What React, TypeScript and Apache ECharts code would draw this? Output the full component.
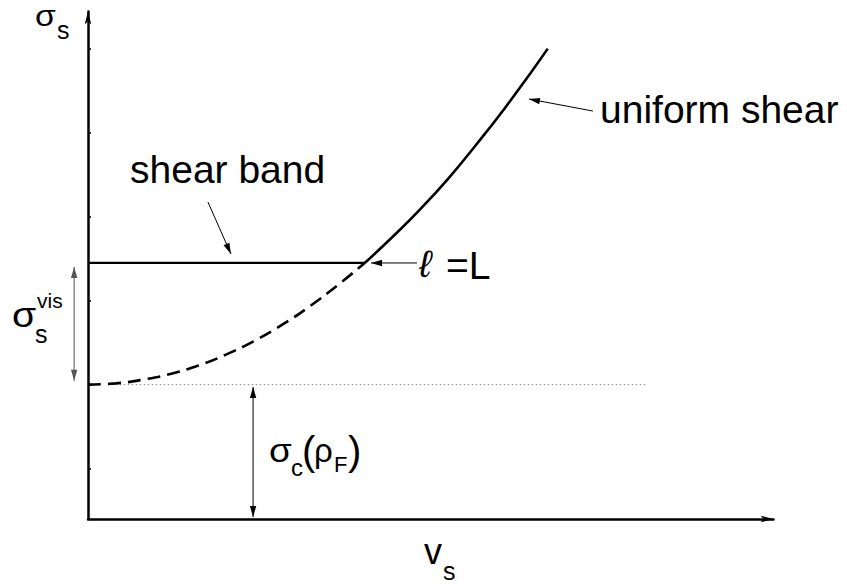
import React, { useEffect, useRef } from "react";
import * as echarts from "echarts";

const W = 847;
const H = 586;

// Schematic units: v_s along x, sigma_s along y
const dashedV = [0, 0.1, 0.2, 0.3, 0.4, 0.5, 0.6, 0.7, 0.8, 0.9, 1.0];
const dashedSigma = [1.6, 1.615, 1.66, 1.73, 1.83, 1.96, 2.12, 2.31, 2.53, 2.78, 3.05];
const uniformV = [1.0, 1.1, 1.2, 1.3, 1.4, 1.5, 1.6, 1.66];
const uniformSigma = [3.05, 3.36, 3.69, 4.05, 4.45, 4.87, 5.32, 5.6];
const bandV = [0, 1.0];
const bandSigma = [3.05, 3.05];
const critV = [0.1, 2.02];
const critSigma = [1.6, 1.6];
const yTickValues = [0.6, 1.6, 2.6, 3.6, 4.6, 5.6];
const X_MAX = 2.475;
const Y_MAX = 6.042;

// annotation arrows, in data coordinates
const arrowFrom = [[0.433, 3.774], [1.823, 4.857], [1.188, 3.048], [-0.05, 3.0], [0.596, 1.571]];
const arrowTo = [[0.516, 3.155], [1.592, 5.0], [1.022, 3.048], [-0.05, 1.645], [0.596, 0.024]];
const arrowBoth = [false, false, false, true, true];
const arrowColor = ["#000", "#000", "#000", "#555", "#000"];

const FONT = "'Liberation Sans', Arial, Helvetica, sans-serif";

const zip = (a: number[], b: number[]) => a.map((v, i) => [v, b[i]]);

function txt(text: string, x: number, y: number, size: number, italic = false, sx = 1) {
  return {
    type: "text",
    x,
    y,
    scaleX: sx,
    silent: true,
    style: {
      text,
      font: `${italic ? "italic " : ""}${size}px ${FONT}`,
      fill: "#000",
      align: "left",
      verticalAlign: "middle",
    },
  };
}

function head(x1: number, y1: number, x2: number, y2: number, color: string) {
  const dx = x2 - x1;
  const dy = y2 - y1;
  const len = Math.hypot(dx, dy) || 1;
  const ux = dx / len;
  const uy = dy / len;
  const L = 11;
  const w = 3.2;
  const bx = x2 - ux * L;
  const by = y2 - uy * L;
  return {
    type: "polygon",
    silent: true,
    shape: {
      points: [
        [x2, y2],
        [bx - uy * w, by + ux * w],
        [bx + uy * w, by - ux * w],
      ],
    },
    style: { fill: color, stroke: "none" },
  };
}

export default function App() {
  const ref = useRef<HTMLDivElement>(null);

  useEffect(() => {
    if (!ref.current) return;
    const chart = echarts.init(ref.current, undefined, { renderer: "svg" });

    const texts = [
      txt("σ", 35, 15.5, 30, false, 1.12),
      txt("s", 57, 29.5, 25),
      txt("σ", 12, 314.9, 35, false, 1.12),
      txt("s", 35, 334.3, 25),
      txt("vis", 37, 300.7, 21),
      txt("shear band", 130, 169.5, 39),
      txt("uniform shear", 600, 109.2, 39),
      txt("ℓ", 419, 263.8, 38, true),
      txt("=L", 446, 265.2, 39),
      txt("σ", 269, 450.6, 33, false, 1.12),
      txt("c", 291, 467.4, 24),
      txt("(", 302, 451.1, 40),
      txt("ρ", 314, 450.6, 33),
      txt("F", 334, 464.4, 22),
      txt(")", 348, 451.1, 40),
      txt("v", 424, 551.5, 36),
      txt("s", 443, 571.3, 25),
    ];

    const axisCommon = {
      type: "value",
      splitLine: { show: false },
      axisLabel: { show: false },
    };

    chart.setOption({
      animation: false,
      backgroundColor: "#fff",
      grid: { left: 88, right: W - 88 - 685.5, top: 11.5, bottom: 67, containLabel: false },
      xAxis: {
        ...axisCommon,
        min: 0,
        max: X_MAX,
        axisTick: { show: false },
        axisLine: {
          show: true,
          symbol: ["none", "arrow"],
          symbolSize: [5, 13],
          lineStyle: { color: "#000", width: 2.5 },
        },
      },
      yAxis: {
        ...axisCommon,
        min: 0,
        max: Y_MAX,
        axisTick: {
          show: true,
          inside: true,
          length: 3,
          customValues: yTickValues,
          lineStyle: { color: "#000", width: 1.5 },
        },
        axisLine: {
          show: true,
          symbol: ["none", "arrow"],
          symbolSize: [5, 13],
          lineStyle: { color: "#000", width: 2.5 },
        },
      },
      series: [
        {
          type: "line",
          data: zip(critV, critSigma),
          showSymbol: false,
          lineStyle: { color: "#888", width: 1, type: [1.5, 2.5] },
          z: 1,
        },
        {
          type: "line",
          data: zip(dashedV, dashedSigma),
          smooth: true,
          showSymbol: false,
          lineStyle: { color: "#000", width: 2.6, type: [13, 7] },
          z: 2,
        },
        {
          type: "line",
          data: zip(uniformV, uniformSigma),
          smooth: true,
          showSymbol: false,
          lineStyle: { color: "#000", width: 2.6 },
          z: 3,
        },
        {
          type: "line",
          data: zip(bandV, bandSigma),
          showSymbol: false,
          lineStyle: { color: "#000", width: 2.3 },
          z: 3,
        },
      ],
      graphic: { elements: texts },
    });

    const arrows: any[] = [];
    arrowFrom.forEach((f, i) => {
      const p1 = chart.convertToPixel({ gridIndex: 0 }, f) as number[];
      const p2 = chart.convertToPixel({ gridIndex: 0 }, arrowTo[i]) as number[];
      const c = arrowColor[i];
      arrows.push({
        type: "line",
        silent: true,
        shape: { x1: p1[0], y1: p1[1], x2: p2[0], y2: p2[1] },
        style: { stroke: c, lineWidth: 1 },
      });
      arrows.push(head(p1[0], p1[1], p2[0], p2[1], c));
      if (arrowBoth[i]) arrows.push(head(p2[0], p2[1], p1[0], p1[1], c));
    });

    chart.setOption({ graphic: { elements: [...texts, ...arrows] } });

    return () => chart.dispose();
  }, []);

  return (
    <div
      ref={ref}
      style={{ position: "fixed", left: 0, top: 0, width: W, height: H, background: "#fff" }}
    />
  );
}
